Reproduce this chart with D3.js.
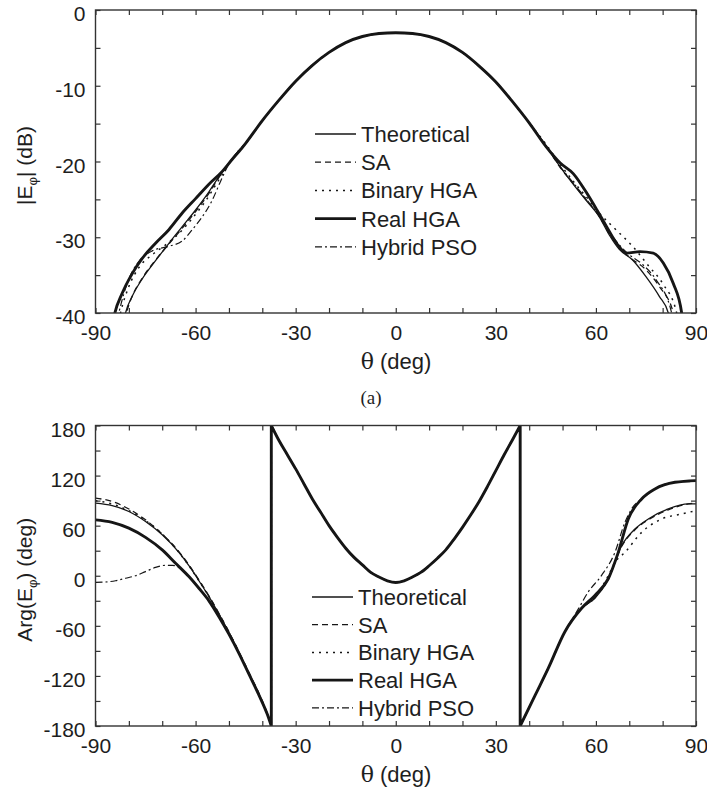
<!DOCTYPE html>
<meta charset="utf-8">
<style>
body { margin: 0; background: #fff; }
svg text { font-family: "Liberation Sans", Arial, sans-serif; fill: #1e1e1e; }
.frame { fill: none; stroke: #333; stroke-width: 1.4px; }
.tick line { stroke: #333; stroke-width: 1.2px; }
.domain { display: none; }
.series { fill: none; stroke: #161616; stroke-linejoin: round; }
</style>
<svg width="707" height="791"></svg>
<script src="https://d3js.org/d3.v7.min.js"></script>
<script>

// legend / series order
var seriesNames = ["Theoretical", "SA", "Binary HGA", "Real HGA", "Hybrid PSO"];
var seriesWidth = [1.3, 1.3, 1.5, 2.9, 1.2];
var seriesDash = [null, "6,4", "2,5", null, "7,3,2,3"];

// ---- (a) |E_phi| in dB : [theta, dB] ----
var magMainLobe = [[-45,-17.6],[-40,-14.6],[-35,-11.9],[-30,-9.4],[-25,-7.3],[-20,-5.6],[-15,-4.3],[-10,-3.5],[-5,-3.1],[0,-3.0],[5,-3.1],[10,-3.5],[15,-4.3],[20,-5.6],[25,-7.4],[30,-9.5],[35,-12.1],[40,-14.9]];

var magLeftTheo   = [[-81.5,-41],[-81,-40],[-79,-37.8],[-76,-35.5],[-72,-33.1],[-68,-30.8],[-64,-28.6],[-60,-26.4],[-56,-24.0],[-53,-22.0],[-50,-20.2],[-47.5,-18.8]];
var magLeftSA     = [[-81.2,-41],[-80.7,-40],[-78.8,-37.6],[-76,-35.4],[-72,-33.0],[-68,-30.9],[-64,-28.8],[-60,-26.6],[-56,-24.2],[-53,-22.1],[-50,-20.3],[-47.5,-18.8]];
var magLeftBinary = [[-83,-41],[-82.5,-40],[-80,-36.5],[-77,-34.0],[-73,-32.3],[-69,-31.0],[-65,-29.5],[-61,-27.5],[-57,-25.2],[-53,-22.4],[-50,-20.3],[-47.5,-18.8]];
var magLeftReal   = [[-84.7,-41],[-84.2,-40],[-82,-37.4],[-79,-34.8],[-76,-32.8],[-72,-30.8],[-68,-29.0],[-64,-26.8],[-60,-24.9],[-56,-23.0],[-52,-21.3],[-49,-19.7],[-47,-18.7]];
var magLeftPSO    = [[-83.5,-41],[-83,-40],[-80,-35.5],[-77,-33.2],[-73,-31.8],[-68,-31.2],[-64,-30.5],[-61,-29.0],[-58,-27.3],[-55,-25.1],[-52.5,-22.6],[-50,-20.3],[-47.5,-18.8]];

var magRightTheo   = [[45,-17.9],[49.3,-20.7],[53,-22.9],[57,-25.1],[61,-27.3],[64,-29.7],[67,-31.6],[71,-33.0],[75,-35.2],[79,-37.8],[81.7,-40],[82.2,-41]];
var magRightSA     = [[45,-17.9],[49,-20.6],[53,-22.8],[57,-25.0],[61,-27.2],[64,-29.5],[67,-31.3],[70,-32.6],[75,-34.3],[79,-36.5],[83.2,-40],[83.7,-41]];
var magRightBinary = [[45,-17.7],[49,-20.2],[53,-22.5],[57,-24.6],[61,-26.8],[66,-29.0],[71,-31.2],[76,-33.9],[80,-36.1],[84.2,-40],[84.7,-41]];
var magRightReal   = [[45,-18.0],[49.3,-20.2],[53.2,-21.6],[57.3,-24.2],[60.3,-26.4],[63.2,-28.6],[66.2,-30.8],[69.2,-32.1],[73.2,-31.9],[77.2,-32.1],[80.2,-33.4],[83.2,-36.1],[85.7,-40],[86,-41]];
var magRightPSO    = [[45,-17.9],[49,-20.5],[53,-22.7],[57,-24.9],[61,-27.2],[64,-29.3],[67,-31.0],[70,-32.3],[74,-33.6],[78,-35.6],[82.7,-40],[83.2,-41]];

// ---- (b) Arg(E_phi) in deg : [theta, deg] ----
var phaseCenter = [[-37.3,180],[-35,162],[-32.5,145],[-30,128],[-27.5,110],[-25,92],[-22.5,76],[-20,60],[-17.5,46],[-15,33],[-12.5,22],[-10,13],[-7.5,4],[-5,-1.5],[-2.5,-6],[0,-8],[2.5,-6],[5,-1.5],[7.5,4],[10,12],[12.5,21],[15,31],[17.5,44],[20,58],[22.5,73],[25,89],[27.5,107],[30,126],[32.5,145],[35,163],[37.3,180]];

var phaseLeftTheo   = [[-90,87],[-85,84],[-80,77],[-75,65],[-70,49],[-65,28],[-62,12],[-59,-6],[-56,-25],[-53,-46],[-50,-68],[-47,-92],[-44,-117],[-41,-142],[-38.5,-166],[-37.3,-180]];
var phaseLeftSA     = [[-90,93],[-85,89],[-80,80],[-75,67],[-70,50],[-65,29],[-62,13],[-59,-5],[-56,-24],[-53,-45],[-50,-67],[-47,-91],[-44,-116],[-41,-141],[-38.5,-165],[-37.3,-180]];
var phaseLeftBinary = [[-90,90],[-85,86],[-80,78],[-75,66],[-70,50],[-65,28],[-62,12],[-59,-6],[-56,-25],[-53,-46],[-50,-68],[-47,-92],[-44,-117],[-41,-142],[-38.5,-166],[-37.3,-180]];
var phaseLeftReal   = [[-90,67],[-85,64],[-80,57],[-75,46],[-70,31],[-66,15],[-62,-1],[-59,-15],[-56,-30],[-53,-49],[-50,-70],[-47,-93],[-44,-118],[-41,-143],[-38.5,-166],[-37.3,-180]];
var phaseLeftPSO    = [[-90,-8],[-87,-7.5],[-84,-6],[-81,-3],[-78,0],[-75,5],[-72,10],[-69,12.5],[-67,12.5],[-65,10],[-63,3],[-61,-5],[-59,-15],[-56,-30],[-53,-49],[-50,-70],[-47,-93],[-44,-118],[-41,-143],[-38.5,-166],[-37.3,-180]];

var phaseRightTheo   = [[37.3,-180],[41.8,-143],[45.7,-111],[50.7,-67],[55.7,-39],[59.7,-27],[63.7,-4],[67.7,36],[71.7,56],[75.7,68],[81.7,80],[87.7,86],[90,86]];
var phaseRightSA     = [[37.3,-180],[41.8,-143],[45.7,-111],[50.7,-67],[55.7,-39],[59.7,-26],[63.7,-3],[67.7,35],[71.7,55],[75.7,67],[81.7,79],[87.7,86],[90,87]];
var phaseRightBinary = [[37.3,-180],[41.8,-143],[45.7,-111],[50.7,-67],[55.7,-39],[59.7,-26],[63.7,0],[65.7,16],[68.7,28],[73.7,52],[79.7,68],[85.7,74],[90,78]];
var phaseRightReal   = [[37.3,-180],[41.8,-143],[45.7,-111],[50.7,-67],[55.7,-39],[59.7,-23.5],[63.7,-3.6],[66.7,28],[69.7,68],[73.7,92],[77.7,104],[83.7,112],[90,114]];
var phaseRightPSO    = [[37.3,-180],[41.8,-143],[45.7,-111],[50.7,-67],[54.7,-40],[57.7,-19.4],[61.7,0.4],[65.7,28],[68.7,64],[71,82],[73.7,92],[77.7,104],[83.7,112],[90,113]];

var magSeries = [
  magLeftTheo.concat(magMainLobe, magRightTheo),
  magLeftSA.concat(magMainLobe, magRightSA),
  magLeftBinary.concat(magMainLobe, magRightBinary),
  magLeftReal.concat(magMainLobe, magRightReal),
  magLeftPSO.concat(magMainLobe, magRightPSO)
];
var phaseSeries = [
  [phaseLeftTheo, phaseCenter, phaseRightTheo],
  [phaseLeftSA, phaseCenter, phaseRightSA],
  [phaseLeftBinary, phaseCenter, phaseRightBinary],
  [phaseLeftReal, phaseCenter, phaseRightReal],
  [phaseLeftPSO, phaseCenter, phaseRightPSO]
];

var svg = d3.select("svg");

function drawPanel(opt) {
  var x = d3.scaleLinear().domain([-90, 90]).range([95.5, 696]);
  var y = d3.scaleLinear().domain(opt.yDomain).range([opt.bottom, opt.top]);
  var g = svg.append("g");

  g.append("clipPath").attr("id", opt.id)
    .append("rect")
      .attr("x", x(-90)).attr("y", opt.top)
      .attr("width", x(90) - x(-90)).attr("height", opt.bottom - opt.top);

  var xTicks = d3.range(-90, 91, 10);

  g.append("g")
      .attr("transform", "translate(0," + opt.bottom + ")")
      .call(d3.axisBottom(x).tickValues(xTicks).tickSize(-5).tickPadding(12)
        .tickFormat(function(d) { return d % 30 === 0 ? String(d) : ""; }))
      .attr("font-size", 21).attr("font-family", null);
  g.append("g")
      .attr("transform", "translate(0," + opt.top + ")")
      .call(d3.axisTop(x).tickValues(xTicks).tickSize(-5).tickFormat(""));
  g.append("g")
      .attr("transform", "translate(" + x(-90) + ",0)")
      .call(d3.axisLeft(y).tickValues(opt.yTicks).tickSize(-5).tickPadding(10)
        .tickFormat(function(d) { return d % opt.yLabelStep === 0 ? String(d) : ""; }))
      .attr("font-size", 21).attr("font-family", null)
    .selectAll("text")
      .attr("dy", "0.5em");
  g.append("g")
      .attr("transform", "translate(" + x(90) + ",0)")
      .call(d3.axisRight(y).tickValues(opt.yTicks).tickSize(-5).tickFormat(""));

  var line = d3.line()
      .x(function(d) { return x(d[0]); })
      .y(function(d) { return y(d[1]); })
      .curve(d3.curveMonotoneX);

  var lines = g.append("g").attr("clip-path", "url(#" + opt.id + ")");
  opt.series.forEach(function(s, i) {
    var d;
    if (opt.segmented) {
      d = s.map(function(seg, k) {
        var p = line(seg);
        return k ? "L" + p.slice(1) : p;
      }).join("");
    } else {
      d = line(s);
    }
    lines.append("path")
        .attr("class", "series")
        .attr("d", d)
        .attr("stroke-width", seriesWidth[i])
        .attr("stroke-dasharray", seriesDash[i]);
  });

  g.append("rect")
      .attr("class", "frame")
      .attr("x", x(-90)).attr("y", opt.top)
      .attr("width", x(90) - x(-90)).attr("height", opt.bottom - opt.top);

  // legend
  var leg = g.append("g");
  seriesNames.forEach(function(name, i) {
    var ly = opt.legY + i * opt.legStep;
    leg.append("line")
        .attr("class", "series")
        .attr("x1", opt.legX).attr("x2", opt.legX + 41)
        .attr("y1", ly).attr("y2", ly)
        .attr("stroke-width", seriesWidth[i])
        .attr("stroke-dasharray", seriesDash[i]);
    leg.append("text")
        .attr("x", opt.legX + 46).attr("y", ly)
        .attr("dy", "0.36em")
        .attr("font-size", 22)
        .text(name);
  });

  // x label
  var xl = g.append("text")
      .attr("x", 396).attr("y", opt.bottom + 56)
      .attr("text-anchor", "middle")
      .attr("font-size", 22);
  xl.append("tspan").attr("font-family", "'DejaVu Serif', 'Liberation Serif', serif").text("\u03b8");
  xl.append("tspan").text(" (deg)");

  // y label
  var yl = g.append("text")
      .attr("transform", "translate(32," + ((opt.top + opt.bottom) / 2 + 4) + ") rotate(-90)")
      .attr("text-anchor", "middle")
      .attr("font-size", 21);
  yl.append("tspan").text(opt.yPre);
  yl.append("tspan").attr("font-size", 13).attr("dy", 5).text("\u03c6");
  yl.append("tspan").attr("dy", -5).text(opt.yPost);
}

drawPanel({
  id: "clipA", top: 10, bottom: 313,
  yDomain: [-40, 0], yTicks: d3.range(-40, 1, 5), yLabelStep: 10,
  series: magSeries, segmented: false,
  legX: 315, legY: 134, legStep: 28.2,
  yPre: "|E", yPost: "| (dB)"
});

svg.append("text")
    .attr("x", 371).attr("y", 404)
    .attr("text-anchor", "middle")
    .attr("font-size", 19)
    .style("font-family", "'Liberation Serif', 'Times New Roman', serif")
    .text("(a)");

drawPanel({
  id: "clipB", top: 425.5, bottom: 726,
  yDomain: [-180, 180], yTicks: d3.range(-180, 181, 30), yLabelStep: 60,
  series: phaseSeries, segmented: true,
  legX: 312, legY: 597, legStep: 27.7,
  yPre: "Arg(E", yPost: ") (deg)"
});

</script>
